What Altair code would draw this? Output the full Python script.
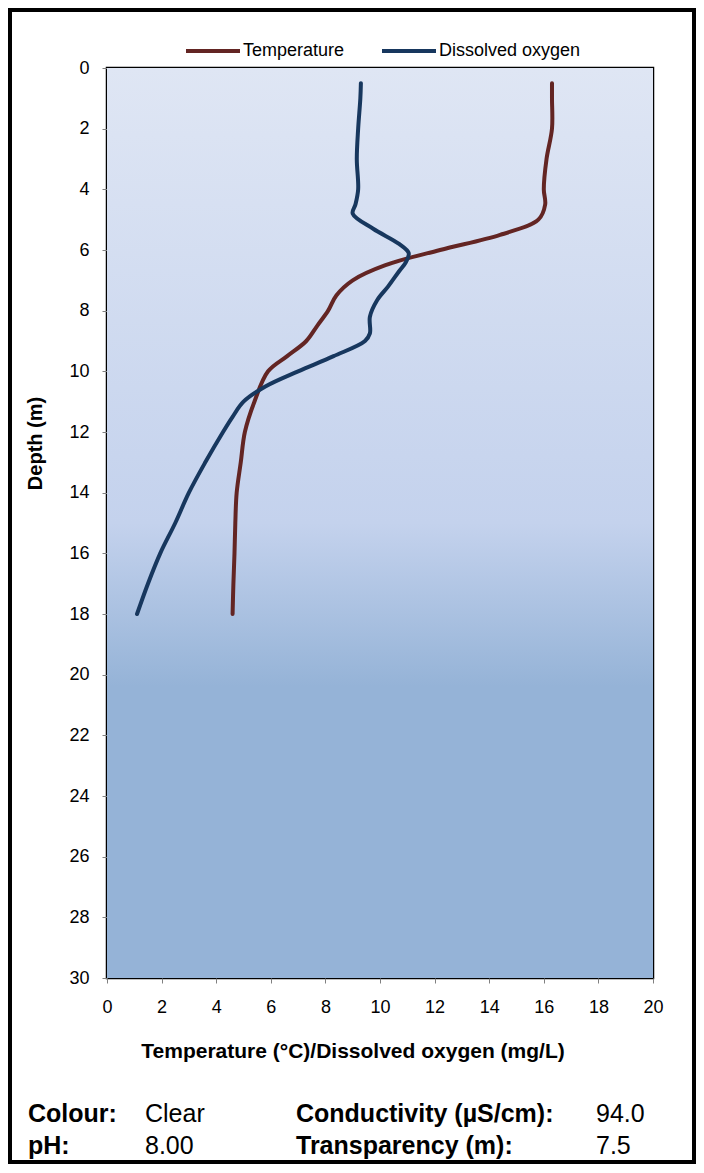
import altair as alt
import pandas as pd

# ---- data ----
temp_depth = [0.5, 1, 2, 3, 4, 4.5, 5, 5.5, 6, 6.5, 7, 7.5, 8, 8.5, 9, 9.5, 10, 11, 12, 13, 14, 15, 16, 17, 18]
temp_vals = [16.3, 16.3, 16.3, 16.1, 16.0, 16.05, 15.8, 14.4, 12.2, 10.2, 9.0, 8.4, 8.1, 7.7, 7.3, 6.6, 5.9, 5.4,
             5.05, 4.9, 4.75, 4.7, 4.67, 4.63, 4.6]

do_depth = [0.5, 1, 2, 3, 4, 4.5, 4.8, 5.3, 5.8, 6.1, 6.4, 6.7, 7.2, 7.65, 8.2, 8.75, 9.0, 9.5, 10, 10.5, 11,
            11.5, 12, 13, 14, 15, 16, 17, 18]
do_vals = [9.3, 9.28, 9.2, 9.15, 9.2, 9.1, 9.0, 9.75, 10.7, 11.05, 10.95, 10.7, 10.3, 9.9, 9.63, 9.63, 9.45, 8.3,
           7.0, 5.8, 5.0, 4.6, 4.25, 3.6, 3.0, 2.5, 1.95, 1.5, 1.1]

series_names = ["Temperature", "Dissolved oxygen"]
series_colors = ["#632523", "#17375e"]

x_ticks = list(range(0, 21, 2))
y_ticks = list(range(0, 31, 2))

info_labels_left = ["Colour:", "pH:"]
info_values_left = ["Clear", "8.00"]
info_labels_right = ["Conductivity (µS/cm):", "Transparency (m):"]
info_values_right = ["94.0", "7.5"]

FONT = "Liberation Sans"
W, H = 546, 910

rows = []
for d, v in zip(temp_depth, temp_vals):
    rows.append({"series": series_names[0], "depth": d, "value": v})
for d, v in zip(do_depth, do_vals):
    rows.append({"series": series_names[1], "depth": d, "value": v})
df = pd.DataFrame(rows)

one = pd.DataFrame({"k": [0]})

bg = alt.Chart(one).mark_rect(
    fill=alt.Gradient(
        gradient="linear",
        stops=[
            alt.GradientStop(color="#dfe6f4", offset=0),
            alt.GradientStop(color="#c4d2ed", offset=0.5),
            alt.GradientStop(color="#95b3d7", offset=0.68),
            alt.GradientStop(color="#95b3d7", offset=1),
        ],
        x1=0, x2=0, y1=0, y2=1,
    )
).encode(x=alt.value(0), x2=alt.value(W), y=alt.value(0), y2=alt.value(H))

lines = alt.Chart(df).mark_line(
    interpolate="catmull-rom", strokeWidth=4, strokeCap="round", strokeJoin="round"
).encode(
    x=alt.X("value:Q",
            scale=alt.Scale(domain=[0, 20], nice=False, zero=False),
            axis=alt.Axis(values=x_ticks, title="Temperature (°C)/Dissolved oxygen (mg/L)",
                          titleFontSize=21, titleFontWeight="bold", titleColor="black",
                          titleX=245.5, titleY=79, titleAlign="center", titleBaseline="alphabetic",
                          labelFontSize=18, labelColor="black", labelPadding=15, labelFlush=False,
                          tickSize=5, tickColor="#808080", domain=False, grid=False)),
    y=alt.Y("depth:Q",
            scale=alt.Scale(domain=[0, 30], reverse=True, nice=False, zero=False),
            axis=alt.Axis(values=y_ticks, title="Depth (m)",
                          titleFontSize=20, titleFontWeight="bold", titleColor="black",
                          titleX=-72, titleY=375, titleAngle=270, titleAlign="center",
                          titleBaseline="middle",
                          labelFontSize=18, labelColor="black", labelPadding=13, labelFlush=False,
                          tickSize=5, tickColor="#808080", domain=False, grid=False)),
    color=alt.Color("series:N",
                    scale=alt.Scale(domain=series_names, range=series_colors),
                    sort=series_names,
                    legend=alt.Legend(title=None, orient="none", legendX=77, legendY=-46,
                                      direction="horizontal", symbolType="stroke",
                                      symbolSize=2916, symbolStrokeWidth=4,
                                      labelFontSize=18, labelColor="black", labelOffset=1,
                                      columnPadding=29, padding=0)),
    order=alt.Order("depth:Q"),
)

layers = [bg, lines]

cells = [
    (info_labels_left, -79, "bold"),
    (info_values_left, 38, "normal"),
    (info_labels_right, 189, "bold"),
    (info_values_right, 489, "normal"),
]
baselines = [1054, 1086]
for texts, xpos, weight in cells:
    for i, t in enumerate(texts):
        layers.append(
            alt.Chart(pd.DataFrame({"t": [t]})).mark_text(
                align="left", baseline="alphabetic", fontSize=25, fontWeight=weight,
                font=FONT, color="black"
            ).encode(text="t:N", x=alt.value(xpos), y=alt.value(baselines[i]))
        )

frame = alt.Chart(one).mark_rect(fill=None, stroke="black", strokeWidth=4).encode(
    x=alt.value(-97), x2=alt.value(587), y=alt.value(-58), y2=alt.value(1094)
)
layers.append(frame)

chart = alt.layer(*layers).properties(
    width=W, height=H,
    autosize=alt.AutoSizeParams(type="none"),
    padding={"left": 99, "top": 60, "right": 43, "bottom": 187},
    background="white",
).configure(font=FONT).configure_view(stroke="black", strokeWidth=2.5)

chart.save("out.html", embed_options={"renderer": "svg", "actions": False})
